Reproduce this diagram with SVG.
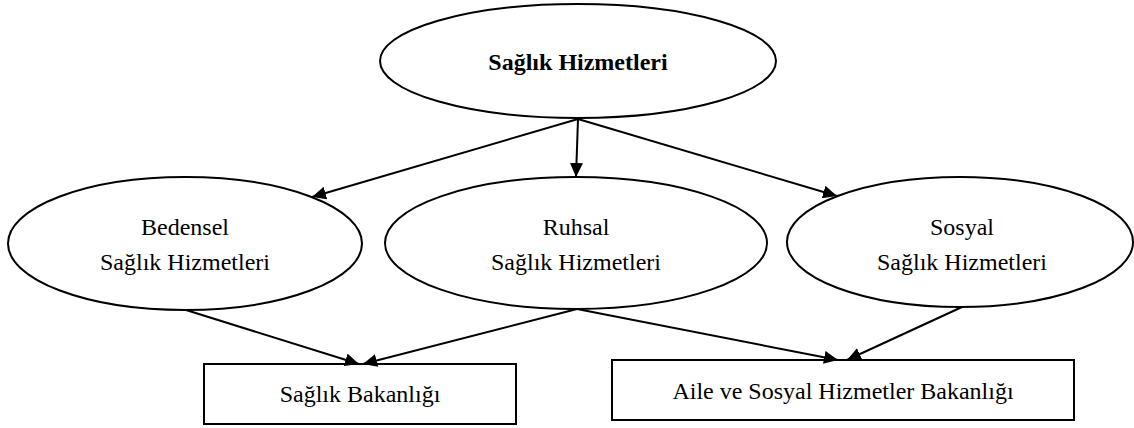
<svg xmlns="http://www.w3.org/2000/svg" width="1134" height="428" viewBox="0 0 1134 428">
<style>
.n{fill:#fff;stroke:#000;stroke-width:2}
.t{font-family:"Liberation Serif","Times New Roman",serif;font-size:24px;fill:#000;text-anchor:middle}
.b{font-weight:bold}
.c{stroke:#000;stroke-width:2;fill:none;marker-end:url(#ah)}
</style>
<defs>
<marker id="ah" viewBox="0 0 10 10" refX="10" refY="5" markerWidth="14" markerHeight="13" markerUnits="userSpaceOnUse" orient="auto" preserveAspectRatio="none">
<path d="M0,0 L10,5 L0,10 z" fill="#000"/>
</marker>
</defs>
<g id="n-top">
<ellipse class="n" cx="578" cy="61" rx="198" ry="57"/>
<text class="t b" x="578" y="70">Sağlık Hizmetleri</text>
</g>
<g id="n-bedensel">
<ellipse class="n" cx="185" cy="243.5" rx="177" ry="66.5"/>
<text class="t" x="185" y="235">Bedensel</text>
<text class="t" x="185" y="270">Sağlık Hizmetleri</text>
</g>
<g id="n-ruhsal">
<ellipse class="n" cx="576" cy="243" rx="191" ry="66"/>
<text class="t" x="576" y="235">Ruhsal</text>
<text class="t" x="576" y="270">Sağlık Hizmetleri</text>
</g>
<g id="n-sosyal">
<ellipse class="n" cx="960" cy="242" rx="173" ry="65"/>
<text class="t" x="962" y="235">Sosyal</text>
<text class="t" x="962" y="270">Sağlık Hizmetleri</text>
</g>
<g id="n-saglik-bakanligi">
<rect class="n" x="204" y="364" width="312" height="60"/>
<text class="t" x="360" y="402">Sağlık Bakanlığı</text>
</g>
<g id="n-aile-bakanligi">
<rect class="n" x="612" y="360" width="462" height="60"/>
<text class="t" x="843" y="399">Aile ve Sosyal Hizmetler Bakanlığı</text>
</g>
<g id="connectors">
<line class="c" x1="578" y1="119" x2="312" y2="197"/>
<line class="c" x1="578" y1="119" x2="576" y2="177"/>
<line class="c" x1="578" y1="119" x2="837" y2="196"/>
<line class="c" x1="186" y1="310" x2="359" y2="364"/>
<line class="c" x1="577" y1="309" x2="363" y2="364"/>
<line class="c" x1="577" y1="309" x2="838" y2="360"/>
<line class="c" x1="962" y1="307" x2="847" y2="360"/>
</g>
</svg>
